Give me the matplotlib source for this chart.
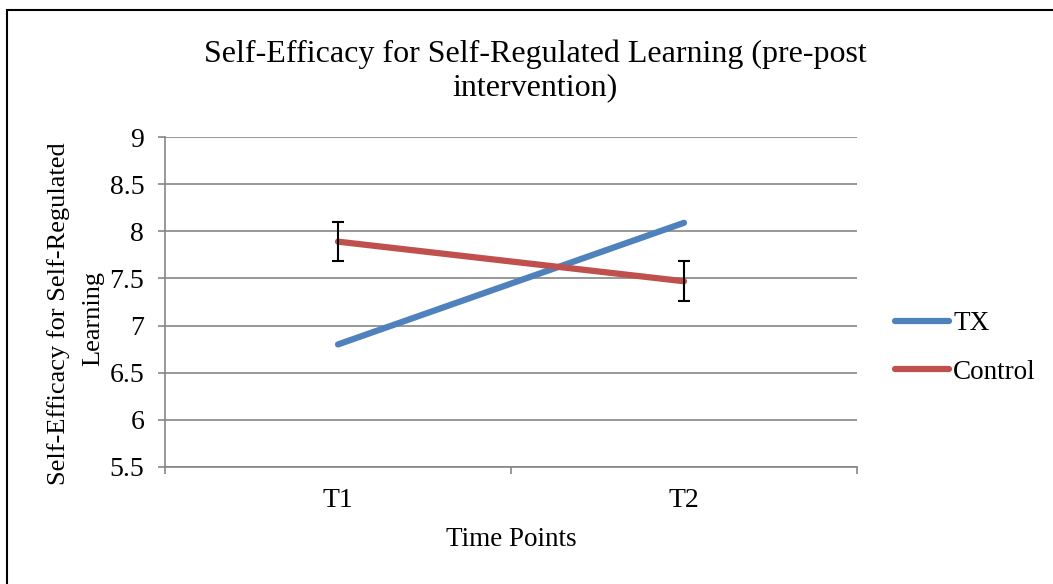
import matplotlib
matplotlib.use("Agg")
import matplotlib.pyplot as plt
from matplotlib.patches import Rectangle
from matplotlib.lines import Line2D

categories = ["T1", "T2"]
tx_values = [6.80, 8.09]
control_values = [7.89, 7.47]
control_err = [0.21, 0.21]
y_ticks = [5.5, 6, 6.5, 7, 7.5, 8, 8.5, 9]
y_tick_labels = ["5.5", "6", "6.5", "7", "7.5", "8", "8.5", "9"]

plt.rcParams['font.family'] = ['Liberation Serif', 'DejaVu Serif']

W, H = 1053, 584
fig = plt.figure(figsize=(W / 100, H / 100), dpi=100)
ax = fig.add_axes([165 / W, 1 - 467 / H, (857 - 165) / W, (467 - 137) / H])

x = [0.5, 1.5]
ax.plot(x, tx_values, color="#4F81BD", lw=4.5, solid_capstyle="round", label="TX", zorder=3)
ax.plot(x, control_values, color="#C0504D", lw=4.5, solid_capstyle="round", label="Control", zorder=3)
ax.errorbar(x, control_values, yerr=control_err, fmt="none", ecolor="black",
            elinewidth=1.5, capsize=4, capthick=1.5, zorder=4)

ax.set_xlim(0, 2)
ax.set_ylim(5.5, 9)
ax.set_yticks(y_ticks)
ax.set_yticklabels(y_tick_labels)
ax.set_xticks(x)
ax.set_xticklabels(categories)
ax.set_xticks([0, 1, 2], minor=True)
ax.tick_params(axis="x", which="major", length=0, labelsize=20, pad=15)
ax.tick_params(axis="x", which="minor", length=5, color="#868686", width=1.2, direction="out")
ax.tick_params(axis="y", length=5, color="#868686", width=1.2, direction="out", labelsize=20, pad=10)
ax.yaxis.grid(True, color="#868686", lw=1.2)
ax.set_axisbelow(True)
for s in ["top", "right"]:
    ax.spines[s].set_visible(False)
for s in ["left", "bottom"]:
    ax.spines[s].set_color("#868686")
    ax.spines[s].set_linewidth(1.2)

fig.text(535 / W, 1 - 71 / H, "Self-Efficacy for Self-Regulated Learning (pre-post\nintervention)",
         ha="center", va="center", fontsize=23, linespacing=1.22)
fig.text(511 / W, 1 - 540 / H, "Time Points", ha="center", va="center", fontsize=19.5)
fig.text(59 / W, 1 - 314 / H, "Self-Efficacy for Self-Regulated", ha="center", va="center",
         rotation=90, fontsize=19)
fig.text(93 / W, 1 - 318 / H, "Learning", ha="center", va="center",
         rotation=90, fontsize=19)

handles = [Line2D([], [], color="#4F81BD", lw=4.5, solid_capstyle="round"),
           Line2D([], [], color="#C0504D", lw=4.5, solid_capstyle="round")]
fig.legend(handles, ["TX", "Control"], loc="center left", bbox_to_anchor=(895 / W, 1 - 348 / H),
           frameon=False, fontsize=19.5, handlelength=2.0, handletextpad=0.15, labelspacing=0.85,
           borderaxespad=0, borderpad=0)

fig.patches.append(Rectangle((7 / W, -0.1), 1.2, (1 - 10 / H) + 0.1, transform=fig.transFigure,
                             fill=False, edgecolor="black", lw=1.5, figure=fig))

fig.savefig("out.png", dpi=100)
